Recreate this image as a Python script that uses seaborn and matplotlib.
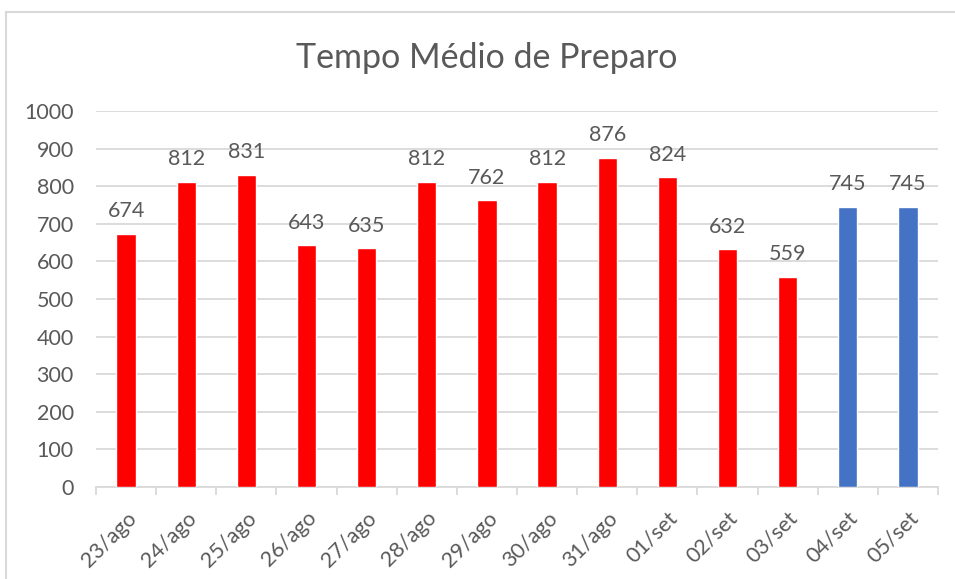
import matplotlib
matplotlib.use("Agg")
import matplotlib.pyplot as plt
import seaborn as sns
import pandas as pd
import numpy as np
from matplotlib.lines import Line2D

categories = ["23/ago", "24/ago", "25/ago", "26/ago", "27/ago", "28/ago", "29/ago",
              "30/ago", "31/ago", "01/set", "02/set", "03/set", "04/set", "05/set"]
values = [674, 812, 831, 643, 635, 812, 762, 812, 876, 824, 632, 559, 745, 745]
colors = ["#FF0000"] * 12 + ["#4472C4"] * 2
yticks = [0, 100, 200, 300, 400, 500, 600, 700, 800, 900, 1000]
title = "Tempo Médio de Preparo"

sns.set_theme(style="white")
plt.rcParams['font.family'] = ['Lato', 'DejaVu Sans']
txt = "#595959"
grid = "#D9D9D9"

W, H = 955, 579
fig = plt.figure(figsize=(W / 100, H / 100), dpi=100)
ax = fig.add_axes([96 / W, 1 - 487 / H, (938 - 96) / W, (487 - 111) / H])

df = pd.DataFrame({"cat": categories, "val": values})
sns.barplot(data=df, x="cat", y="val", hue="cat", palette=colors, legend=False,
            width=0.32, saturation=1, ax=ax, zorder=3)

ax.set_ylim(0, 1000)
ax.set_xlim(-0.5, len(categories) - 0.5)
ax.set_yticks(yticks)
ax.set_yticklabels([str(t) for t in yticks], color=txt, fontsize=15.5)
ax.yaxis.grid(True, color=grid, linewidth=1.3, zorder=0)
ax.set_axisbelow(True)
ax.tick_params(axis="y", length=0, pad=16)

ax.set_xticks(range(len(categories)))
ax.set_xticklabels(categories, rotation=45, ha="right", rotation_mode="anchor",
                   color=txt, fontsize=15.5)
ax.tick_params(axis="x", which="major", length=0, pad=15)
ax.set_xticks(np.arange(-0.5, len(categories), 1.0), minor=True)
ax.tick_params(axis="x", which="minor", length=6, width=1.3, color=grid, direction="out", bottom=True)
ax.set_xlabel("")
ax.set_ylabel("")

for s in ["top", "right", "left"]:
    ax.spines[s].set_visible(False)
ax.spines["bottom"].set_color(grid)
ax.spines["bottom"].set_linewidth(1.3)

for i, v in enumerate(values):
    ax.annotate(str(v), (i, v), xytext=(0, 9), textcoords="offset points",
                ha="center", va="bottom", color=txt, fontsize=15.5)

fig.text(487 / W, 1 - 58 / H, title, ha="center", va="center", color=txt, fontsize=24.5)

# chart frame
fig.add_artist(Line2D([6 / W, 6 / W], [0, 1 - 12 / H], color=grid, linewidth=1.5))
fig.add_artist(Line2D([6 / W, 1], [1 - 12 / H, 1 - 12 / H], color=grid, linewidth=1.5))

fig.savefig("out.png", dpi=100, facecolor="white")
